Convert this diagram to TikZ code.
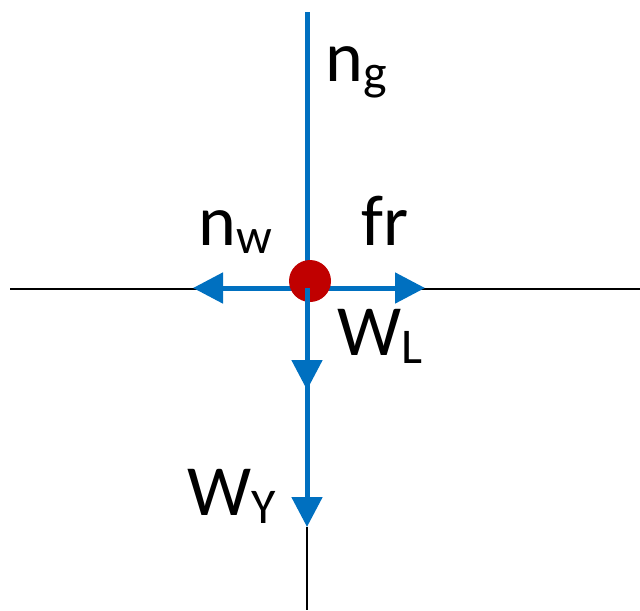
\documentclass[tikz,border=0pt]{standalone}
\usepackage{fontspec}
\setmainfont{Carlito}
\usetikzlibrary{arrows.meta}
\definecolor{ForceBlue}{HTML}{0070C0}
\definecolor{BallRed}{HTML}{C00000}
\newcommand{\forcelbl}[2]{#1\raisebox{-4pt}{\fontsize{25}{25}\selectfont #2}}

\begin{document}
\begin{tikzpicture}[x=0.5pt, y=-0.5pt,
    axis/.style={draw=black, line width=1pt},
    force/.style={-{Triangle[length=15pt, width=15pt]}, draw=ForceBlue, line width=2.5pt},
    lbl/.style={font=\fontsize{36}{36}\selectfont, inner sep=0pt, anchor=base west}
  ]
    \useasboundingbox (0,0) rectangle (640,610);

    \coordinate (c) at (307,288);
    \coordinate (left) at (10,289);
    \coordinate (right) at (640,289);
    \coordinate (top) at (307,12);
    \coordinate (nw) at (193,288);
    \coordinate (fr) at (425,288);
    \coordinate (wl) at (307,390);
    \coordinate (wy) at (307,527);
    \coordinate (bottom) at (307,610);

    \draw[axis] (left) -- (right);
    \draw[axis] (wy) -- (bottom);

    \draw[draw=ForceBlue, line width=2.5pt] (c) -- (top);
    \draw[force] (c) -- (nw);
    \draw[force] (c) -- (fr);
    \node[circle, fill=BallRed, minimum size=21pt, inner sep=0pt] (ball) at (310,281) {};
    \draw[force] (c) -- (wy);
    \draw[force] (c) -- (wl);

    \node[lbl] (ng-lbl) at (325,82) {\forcelbl{n}{g}};
    \node[lbl] (nw-lbl) at (198,245) {\forcelbl{n}{w}};
    \node[lbl] (fr-lbl) at (361,245) {fr};
    \node[lbl] (wl-lbl) at (337,355) {\forcelbl{W}{L}};
    \node[lbl] (wy-lbl) at (187,515) {\forcelbl{W}{Y}};
  \end{tikzpicture}
\end{document}
